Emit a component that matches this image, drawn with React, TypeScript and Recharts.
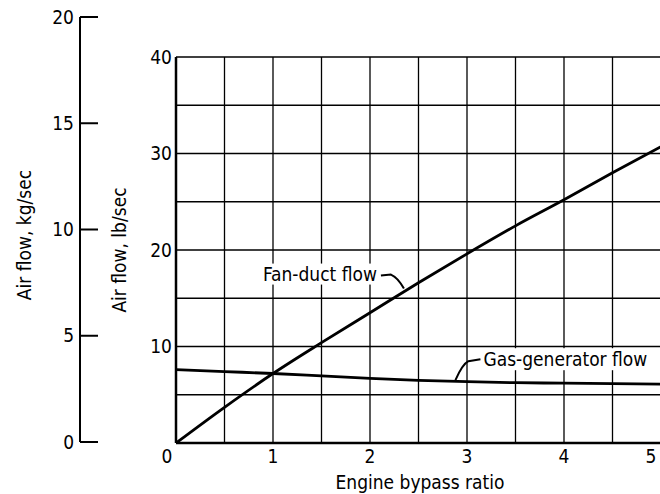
import {
  LineChart,
  Line,
  XAxis,
  YAxis,
  CartesianGrid,
  ReferenceDot,
} from 'recharts';

// engine bypass ratio (x) and air flow in lb/sec
const bypassRatio = [0, 0.5, 1, 1.5, 2, 2.5, 3, 3.5, 4, 4.5, 5];
const fanDuctFlow = [0, 3.7, 7.2, 10.4, 13.5, 16.6, 19.6, 22.5, 25.2, 28.0, 30.7];
const gasGeneratorFlow = [7.6, 7.4, 7.2, 6.95, 6.7, 6.5, 6.35, 6.25, 6.2, 6.15, 6.1];

const xTicks = [0, 0.5, 1, 1.5, 2, 2.5, 3, 3.5, 4, 4.5, 5];
const lbTicks = [0, 5, 10, 15, 20, 25, 30, 35, 40];
const kgTicks = [0, 5, 10, 15, 20];

const LB_PER_KG = 2.2046;

// where the leader lines touch the curves
const fanNote = { x: 2.36, y: 15.9, text: 'Fan-duct flow' };
const gasNote = { x: 2.86, y: 6.3, text: 'Gas-generator flow' };

const data = bypassRatio.map((r, i) => ({
  ratio: r,
  fan: fanDuctFlow[i],
  gas: gasGeneratorFlow[i],
  fanKg: fanDuctFlow[i] / LB_PER_KG,
}));

const FONT = "'Liberation Sans Narrow', 'DejaVu Sans Condensed', 'Roboto', sans-serif";
const FS = 19;

const XTick = (props: any) => {
  const { x, y, payload } = props;
  const v = payload.value;
  if (v % 1 !== 0) return null;
  // 0 sits a little left of the corner; 5 is pulled in so it stays on the page
  const dx = v === 0 ? -9 : v === 5 ? -7 : 0;
  return (
    <text x={x + dx} y={y} dy="0.71em" textAnchor="middle" fontSize={FS} fontFamily={FONT} fill="#000">
      {v}
    </text>
  );
};

const LbTick = (props: any) => {
  const { x, y, payload } = props;
  const v = payload.value;
  if (v === 0 || v % 10 !== 0) return null;
  return (
    <text x={x} y={y} dy="0.35em" textAnchor="end" fontSize={FS} fontFamily={FONT} fill="#000">
      {v}
    </text>
  );
};

const KgTick = (props: any) => {
  const { x, y, payload } = props;
  // x is past the tick line (right orientation); pull the text back left of the axis
  return (
    <text x={x - 26} y={y} dy="0.35em" textAnchor="end" fontSize={FS} fontFamily={FONT} fill="#000">
      {payload.value}
    </text>
  );
};

const FanLabel = (props: any) => {
  const { cx, cy } = props;
  return (
    <g>
      <rect x={cx - 145} y={cy - 26} width={120} height={21} fill="#fff" />
      <text x={cx - 28} y={cy - 15} dy="0.35em" textAnchor="end" fontSize={FS} fontFamily={FONT} fill="#000">
        {fanNote.text}
      </text>
      <path
        d={`M ${cx - 24} ${cy - 14} L ${cx - 14} ${cy - 15} Q ${cx - 7} ${cy - 12} ${cx - 1} ${cy - 1}`}
        fill="none"
        stroke="#000"
        strokeWidth={2}
      />
    </g>
  );
};

const GasLabel = (props: any) => {
  const { cx, cy } = props;
  return (
    <g>
      <rect x={cx + 27} y={cy - 34} width={168} height={22} fill="#fff" />
      <text x={cx + 30} y={cy - 23} dy="0.35em" textAnchor="start" fontSize={FS} fontFamily={FONT} fill="#000">
        {gasNote.text}
      </text>
      <path
        d={`M ${cx + 27} ${cy - 23} L ${cx + 15} ${cy - 21} Q ${cx + 9} ${cy - 18} ${cx + 2} ${cy - 2}`}
        fill="none"
        stroke="#000"
        strokeWidth={2}
      />
    </g>
  );
};

const rotatedTitle = (text: string, cx: number) => (p: any) => {
  const { viewBox } = p;
  const cy = viewBox.y + viewBox.height / 2;
  return (
    <text
      x={cx}
      y={cy}
      transform={`rotate(-90 ${cx} ${cy})`}
      textAnchor="middle"
      dominantBaseline="central"
      fontSize={FS}
      fontFamily={FONT}
      fill="#000"
    >
      {text}
    </text>
  );
};

const App = () => {
  return (
    <div style={{ position: 'absolute', left: 0, top: 0, width: 660, height: 494, overflow: 'hidden', background: '#fff' }}>
      {/* kg/sec scale on the far left */}
      <div style={{ position: 'absolute', left: 0, top: 0 }}>
        <LineChart width={100} height={494} data={data} margin={{ top: 17, right: 0, bottom: 52, left: 0 }}>
          <XAxis dataKey="ratio" type="number" domain={[0, 5]} hide />
          <YAxis
            orientation="right"
            width={20}
            type="number"
            domain={[0, 20]}
            ticks={kgTicks}
            interval={0}
            tickSize={18}
            tick={KgTick}
            axisLine={{ stroke: '#000', strokeWidth: 2 }}
            tickLine={{ stroke: '#000', strokeWidth: 2 }}
          />
          {/* same fan-duct curve in kg/sec, invisible; only keeps the kg axis populated */}
          <Line dataKey="fanKg" stroke="none" dot={false} isAnimationActive={false} />
        </LineChart>
      </div>
      <div style={{ position: 'absolute', left: 0, top: 0 }}>
        <LineChart width={662} height={494} data={data} margin={{ top: 57, right: 1, bottom: 0, left: 0 }}>
          <CartesianGrid stroke="#000" strokeWidth={1.3} />
          <XAxis
            dataKey="ratio"
            type="number"
            domain={[0, 5]}
            ticks={xTicks}
            tick={XTick}
            tickLine={false}
            tickSize={0}
            tickMargin={7}
            height={51}
            axisLine={{ stroke: '#000', strokeWidth: 2.5 }}
            label={{ content: (p: any) => (
              <text x={420} y={482} textAnchor="middle" dominantBaseline="central" fontSize={FS} fontFamily={FONT} fill="#000">
                Engine bypass ratio
              </text>
            ) }}
          />
          <YAxis
            type="number"
            domain={[0, 40]}
            ticks={lbTicks}
            tick={LbTick}
            tickLine={false}
            tickSize={0}
            tickMargin={4}
            width={176}
            axisLine={{ stroke: '#000', strokeWidth: 2.5 }}
            label={{ content: rotatedTitle('Air flow,  lb/sec', 119) }}
          />
          <Line dataKey="fan" type="monotone" stroke="#000" strokeWidth={2.8} dot={false} isAnimationActive={false} />
          <Line dataKey="gas" type="monotone" stroke="#000" strokeWidth={2.8} dot={false} isAnimationActive={false} />
          <ReferenceDot x={fanNote.x} y={fanNote.y} r={1} ifOverflow="visible" shape={FanLabel} />
          <ReferenceDot x={gasNote.x} y={gasNote.y} r={1} ifOverflow="visible" shape={GasLabel} />
        </LineChart>
      </div>
      <svg style={{ position: 'absolute', left: 0, top: 0 }} width={60} height={494}>
        <text
          x={24}
          y={235}
          transform="rotate(-90 24 235)"
          textAnchor="middle"
          dominantBaseline="central"
          fontSize={FS}
          fontFamily={FONT}
          fill="#000"
        >
          Air flow,  kg/sec
        </text>
      </svg>
    </div>
  );
};

export default App;
